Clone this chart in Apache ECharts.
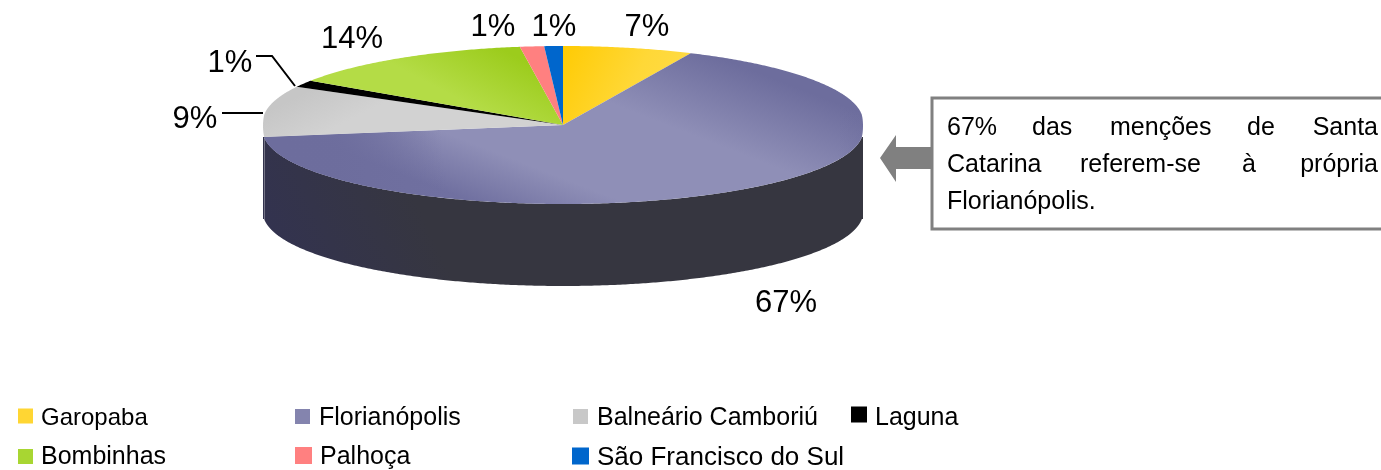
<!DOCTYPE html>
<html><head><meta charset="utf-8">
<style>html,body{margin:0;padding:0;background:#fff}#c{width:1381px;height:470px}</style>
<script src="https://cdn.jsdelivr.net/npm/echarts@6/dist/echarts.min.js"></script>
</head><body><div id="c"></div>
<script>
const categories = ['Garopaba','Florianópolis','Balneário Camboriú','Laguna','Bombinhas','Palhoça','São Francisco do Sul'];
const values = [7, 66.6, 9, 1.49, 13.61, 1.3, 1];
const swatchColors = ['#ffd633','#8484ae','#c8c8c8','#000000','#a8d632','#ff8080','#0066cc'];
const FONT = '"Liberation Sans", Arial, sans-serif';

const CX = 563, CY = 125, RX = 300, DEPTH = 82;
const U0 = 0.087;
function yOf(u){
  if (u >= U0) return 137 + 67*(u-U0)/(1-U0);
  if (u <= -U0) return 115 + 69*(u+U0)/(1-U0);
  return 126 + 11*u/U0;
}
function rimPoint(deg){
  const a = deg*Math.PI/180;
  return [CX + RX*Math.sin(a), yOf(-Math.cos(a))];
}
function linear(x,y,x2,y2,stops){
  return {type:'linear',x,y,x2,y2,global:true,colorStops:stops.map(c=>({offset:c[0],color:c[1]}))};
}
const faceFills = [
  linear(565,48,690,110,[[0,'#ffcb05'],[0.55,'#ffd837'],[1,'#ffdc4a']]),
  linear(700,50,610,282,[[0,'#6d6d9d'],[0.33,'#8f8fb7'],[0.68,'#8f8fb7'],[0.9,'#7070a0']]),
  linear(300,95,320,135,[[0,'#c6c6c6'],[1,'#d2d2d2']]),
  '#000000',
  linear(500,48,470,105,[[0,'#9ccc1c'],[1,'#b4dc46']]),
  '#ff8080',
  '#0066cc'
];
const rimShade = {type:'radial',x:640,y:140,r:360,global:true,colorStops:[
  {offset:0,color:'rgba(109,109,157,0)'},{offset:0.55,color:'rgba(109,109,157,0)'},{offset:0.85,color:'rgba(109,109,157,0.95)'},{offset:1,color:'rgba(109,109,157,1)'}]};
const wallFill = linear(300,290,560,170,[[0,'#33334f'],[0.5,'#363640'],[1,'#363640']]);

function renderSlice(params, api){
  const value = api.value(0), start = api.value(1);
  const a0 = start*3.6, a1 = (start+value)*3.6;
  const i = params.seriesIndex;
  const arc = [];
  for (let d=a0; d<a1; d+=0.5) arc.push(rimPoint(d));
  arc.push(rimPoint(a1));
  const children = [];
  const w0 = Math.max(a0,90), w1 = Math.min(a1,270);
  if (w1 > w0){
    const top = [], bottom = [];
    for (let d=w0; d<=w1; d+=0.5){
      const a = d*Math.PI/180;
      const x = CX + RX*Math.sin(a);
      const y = yOf(Math.max(-Math.cos(a),U0));
      top.push([x,y]); bottom.unshift([x,y+DEPTH]);
    }
    children.push({type:'polygon',shape:{points:top.concat(bottom)},style:{fill:wallFill}});
  }
  const face = [[CX,CY]].concat(arc);
  children.push({type:'polygon',shape:{points:face},style:{fill:faceFills[i]}});
  if (i === 1) children.push({type:'polygon',shape:{points:face},style:{fill:rimShade}});
  return {type:'group',children};
}

let cum = 0;
const series = categories.map((name,i)=>{
  const s = {type:'custom',name,coordinateSystem:'none',clip:false,silent:true,
    itemStyle:{color:swatchColors[i]},renderItem:renderSlice,
    data:[[values[i],cum]],animation:false};
  cum += values[i];
  return s;
});

const legendPos = [[18,406],[295,406],[573,406],[851,406],[18,445],[295,445],[572,445]];
const swatchSize = [15,15,15,16,15,17,17];
const swatchLift = [2,2,2,4,1,2,2];
const legendFont = [24,25,25,25,25,25,26];
const legendGap = [3,4,4,3,3,3,3];
const legend = categories.map((name,i)=>{
  const h = swatchSize[i] + 2*swatchLift[i];
  const bottom = (100*h/swatchSize[i]).toFixed(2);
  return {
    data:[name],left:legendPos[i][0],top:legendPos[i][1],itemWidth:swatchSize[i],itemHeight:h,padding:0,
    selectedMode:false,icon:'path://M0 0L100 0L100 100L0 100Z M0 '+bottom+'L0.01 '+bottom+'Z',
    textStyle:{fontFamily:FONT,fontSize:legendFont[i],color:'#000',padding:[0,0,0,legendGap[i]]}
  };
});

const labelPos = [[647,27],[786,303],[195,119],[230,63],[352,39],[493,27],[554,27]];
const pct = values.map(v=>Math.round(v)+'%');
const graphics = pct.map((t,i)=>({type:'text',x:labelPos[i][0],y:labelPos[i][1],z:10,
  style:{text:t,font:'31px '+FONT,fill:'#000',textAlign:'center',textVerticalAlign:'middle'}}));

const noteWords = [
  ['67%',947,128,'left'],['das',1032,128,'left'],['menções',1110,128,'left'],['de',1247,128,'left'],['Santa',1378,128,'right'],
  ['Catarina',947,165,'left'],['referem-se',1080,165,'left'],['à',1242,165,'left'],['própria',1378,165,'right'],
  ['Florianópolis.',947,202,'left']
];
graphics.push(
  {type:'polyline',z:10,shape:{points:[[256,56],[272,56],[295,86]]},style:{stroke:'#000',lineWidth:2,fill:null}},
  {type:'polyline',z:10,shape:{points:[[222,113],[263,113]]},style:{stroke:'#000',lineWidth:2,fill:null}},
  {type:'polygon',z:10,shape:{points:[[880,158],[896,135],[896,147],[932,147],[932,169],[896,169],[896,182]]},style:{fill:'#808080'}},
  {type:'rect',z:10,shape:{x:932,y:98,width:470,height:131},style:{fill:'#fff',stroke:'#808080',lineWidth:3}}
);
noteWords.forEach(w=>{
  graphics.push({type:'text',z:11,x:w[1],y:w[2],style:{text:w[0],font:'25px '+FONT,fill:'#000',textAlign:w[3],textVerticalAlign:'middle'}});
});

const chart = echarts.init(document.getElementById('c'),null,{renderer:'canvas',width:1381,height:470});
chart.setOption({animation:false,backgroundColor:'#fff',legend,series,graphic:{elements:graphics}});
</script></body></html>
